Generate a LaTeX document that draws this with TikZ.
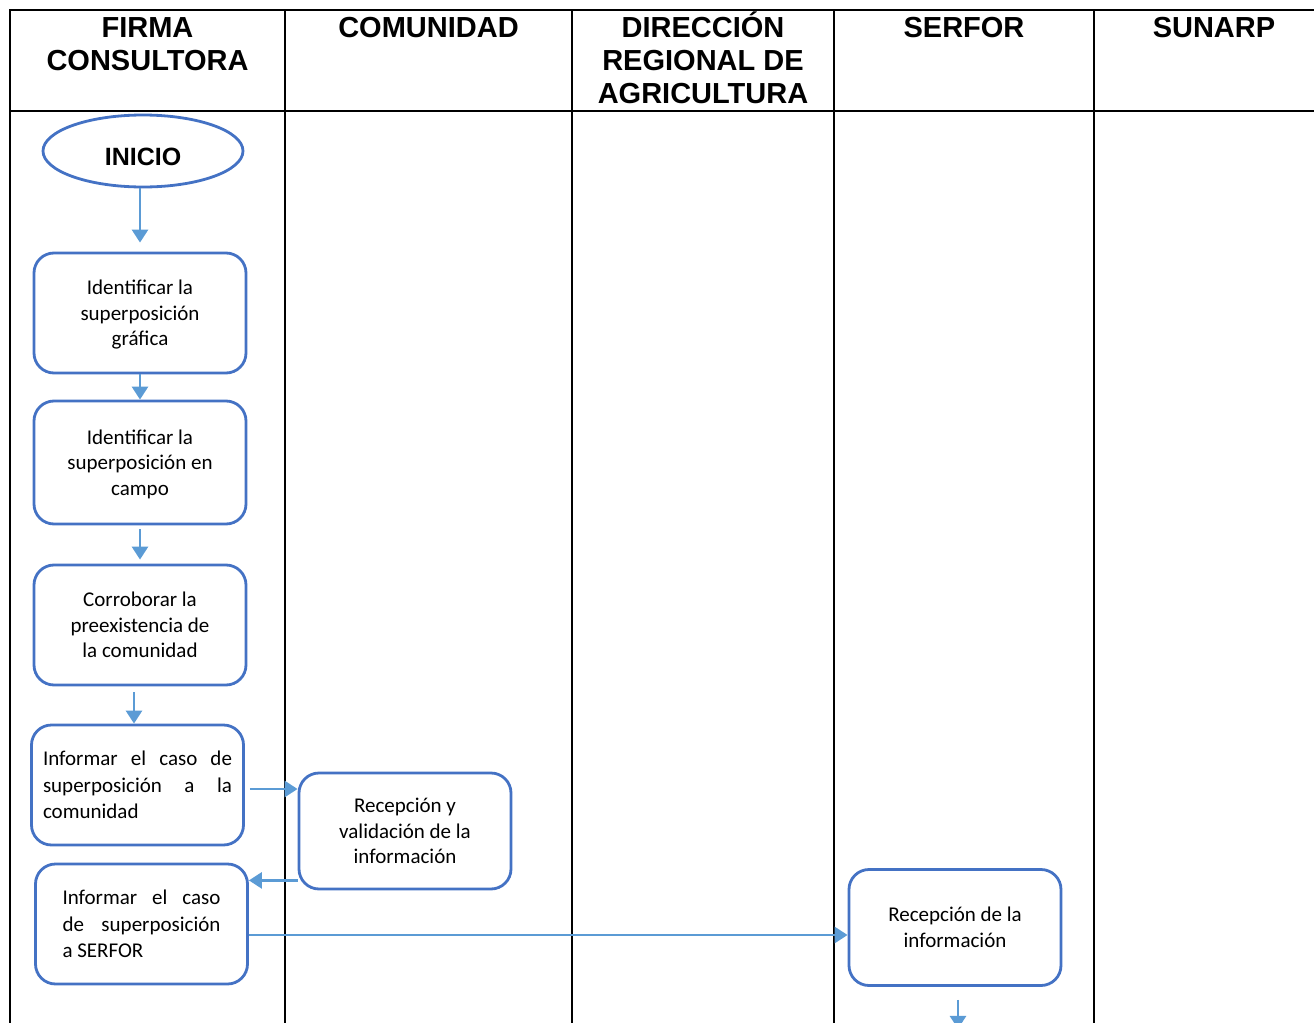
\documentclass[tikz,border=0pt]{standalone}
\usepackage{fontspec}
\setmainfont{Carlito}
\newfontfamily\arialfont{Liberation Sans}
\usetikzlibrary{shapes.geometric, positioning, arrows.meta}
\definecolor{borde}{HTML}{4472C4}
\definecolor{flecha}{HTML}{5B9BD5}
\tolerance=10000
\hyphenpenalty=10000
\tikzset{->,
         >={Triangle[width=8pt,length=6.5pt]},
         node distance=12.6pt,
         x=0.5pt, y=-0.5pt,
         proceso/.style={draw=borde, line width=1.4pt, rounded corners=10pt,
                         minimum width=106pt, minimum height=60pt, align=center,
                         text depth=0pt,
                         font=\fontsize{10.5}{12.8}\selectfont},
         justo/.style={text width=#1, align=justify, text depth={},
                       font=\fontsize{10.5}{13.2}\selectfont},
         inicio/.style={ellipse, draw=borde, line width=1.4pt,
                        minimum width=100pt, minimum height=36pt,
                        text height=14pt, text depth=0pt,
                        font=\arialfont\bfseries\fontsize{12.5}{15}\selectfont},
         titulo/.style={anchor=base, align=center, inner sep=0pt,
                        font=\arialfont\bfseries\fontsize{14.5}{16.5}\selectfont},
         carril/.style={-, draw=black, line width=1pt},
         flujo/.style={->, draw=flecha, line width=1.4pt},
         }

\begin{document}
\begin{tikzpicture}
    \useasboundingbox (0,0) rectangle (1314,1023);

    % carriles
    \draw[carril] (10,1023) -- (10,10) -- (1314,10);
    \draw[carril] (10,111) -- (1314,111);
    \foreach \x in {285,572,834,1094}
        \draw[carril] (\x,10) -- (\x,1023);

    % anchor=base cae en la ultima linea
    \node[titulo] (hFirma) at (147.5,70) {FIRMA\\CONSULTORA};
    \node[titulo] (hComunidad) at (428.5,37) {COMUNIDAD};
    \node[titulo] (hDireccion) at (703,103) {DIRECCIÓN\\REGIONAL DE\\AGRICULTURA};
    \node[titulo] (hSerfor) at (964,37) {SERFOR};
    \node[titulo] (hSunarp) at (1214,37) {SUNARP};

    % procesos
    \node[inicio] (q0) at (143,151) {INICIO};
    \node[proceso] (q1) at (140,313) {Identificar la\\superposición\\gráfica};
    \node[proceso, below=of q1, minimum height=61.5pt] (q2) {Identificar la\\superposición en\\campo};
    \node[proceso, below=19.1pt of q2] (q3) {Corroborar la\\preexistencia de\\la comunidad};
    \node[proceso, justo=94.5pt, below=18.6pt of q3, xshift=-1.25pt] (q4) {Informar el caso de superposición a la comunidad};
    \node[proceso, justo=79pt, below=8.1pt of q4, xshift=2pt] (q6) {Informar el caso de superposición\linebreak a SERFOR};
    \node[proceso, minimum height=58pt] (q5) at (405,831) {Recepción y\\validación de la\\información};
    \node[proceso, minimum height=58pt] (q7) at (955,927.5) {Recepción de la\\información};

    \coordinate (a3) at ([shift={(-3pt,-3pt)}]q3.south);
    \coordinate (a4) at ([shift={(2.5pt,-2pt)}]q4.east);
    \coordinate (a5) at ([yshift=5pt]q5.south west);
    \coordinate (a6) at ([yshift=-5.5pt]q6.east);
    \coordinate (a7) at ([shift={(1.5pt,-6.5pt)}]q7.south);
    \coordinate (sigue) at ([shift={(1.5pt,-21pt)}]q7.south);

    \draw[flujo, shorten >=4.5pt] (q0.south -| q1.north) -- (q1.north);
    \draw[flujo] (q1) -- (q2);
    \draw[flujo, shorten <=2pt, shorten >=2pt] (q2) -- (q3);
    \draw[flujo] (a3) -- (a3 |- q4.north);
    \draw[flujo] (a4) -- (a4 -| q5.west);
    \draw[flujo] (a5) -- (a5 -| q6.east);
    \draw[flujo] (a6) -- (a6 -| q7.west);
    \draw[flujo] (a7) -- (sigue);
\end{tikzpicture}
\end{document}
